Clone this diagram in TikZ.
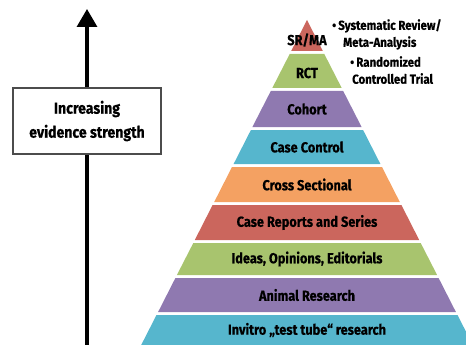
\documentclass[tikz,border=0pt]{standalone}
\usepackage{fontspec}
\setmainfont{Fira Sans}[FakeStretch=0.88, BoldFeatures={FakeBold=0.5}]
\usetikzlibrary{arrows.meta}

\definecolor{pyrred}{RGB}{203,102,93}
\definecolor{pyrgreen}{RGB}{168,196,110}
\definecolor{pyrpurple}{RGB}{143,121,176}
\definecolor{pyrblue}{RGB}{86,182,205}
\definecolor{pyrorange}{RGB}{244,161,98}

\begin{document}
\begin{tikzpicture}[x=1pt, y=-1pt,
    level/.style={font=\fontsize{14.5}{16}\selectfont\bfseries, inner sep=0pt},
    note/.style={font=\fontsize{13}{17}\selectfont\bfseries, align=left, inner sep=0pt, anchor=north west}]
    \useasboundingbox (0,0) rectangle (466,345);

    % Arrow with the label box on top of it
    \coordinate (base) at (87,345);
    \coordinate (tip) at (87,9);
    \draw[line width=3.3pt, -{Triangle[width=20pt,length=18pt]}] (base) -- (tip);
    \node[draw=black!70, line width=1.3pt, fill=white, minimum width=148pt, minimum height=66pt,
          align=center, font=\fontsize{16}{24}\selectfont\bfseries] (strength) at (87,121)
          {Increasing\\evidence strength};

    % Pyramid, top to bottom
    \fill[pyrred] (307,20) -- (322.8,51) -- (291.2,51) -- cycle;
    \fill[pyrgreen] (289.7,54) -- (324.3,54) -- (341.7,88) -- (272.3,88) -- cycle;
    \fill[pyrpurple] (270.8,91) -- (343.2,91) -- (361.6,127) -- (252.4,127) -- cycle;
    \fill[pyrblue] (250.9,130) -- (363.1,130) -- (380.4,164) -- (233.6,164) -- cycle;
    \fill[pyrorange] (232.0,167) -- (382.0,167) -- (399.8,202) -- (214.2,202) -- cycle;
    \fill[pyrred] (212.6,205) -- (401.4,205) -- (419.2,240) -- (194.8,240) -- cycle;
    \fill[pyrgreen] (193.3,243) -- (420.7,243) -- (437.1,275) -- (176.9,275) -- cycle;
    \fill[pyrpurple] (175.4,278) -- (438.6,278) -- (455.9,312) -- (158.1,312) -- cycle;
    \fill[pyrblue] (156.5,315) -- (457.5,315) -- (472.8,345) -- (141.2,345) -- cycle;

    % Level names
    \node[level] (srma) at (307,40) {SR/MA};
    \node[level] (rct) at (307,73) {RCT};
    \node[level] (cohort) at (307,109) {Cohort};
    \node[level] (casecontrol) at (307,147) {Case Control};
    \node[level] (crosssec) at (307,184.5) {Cross Sectional};
    \node[level] (casereports) at (307,222.5) {Case Reports and Series};
    \node[level] (ideas) at (307,259) {Ideas, Opinions, Editorials};
    \node[level] (animal) at (307,295) {Animal Research};
    \node[level] (invitro) at (307,330) {Invitro „test tube“ research};

    % Notes next to the top
    \node[note] (srmanote) at (332,19) {\textbullet\,Systematic Review/\\\hspace{11pt}Meta-Analysis};
    \node[note] (rctnote) at (350,56) {\textbullet\,Randomized\\\hspace{2pt}Controlled Trial};
\end{tikzpicture}
\end{document}
